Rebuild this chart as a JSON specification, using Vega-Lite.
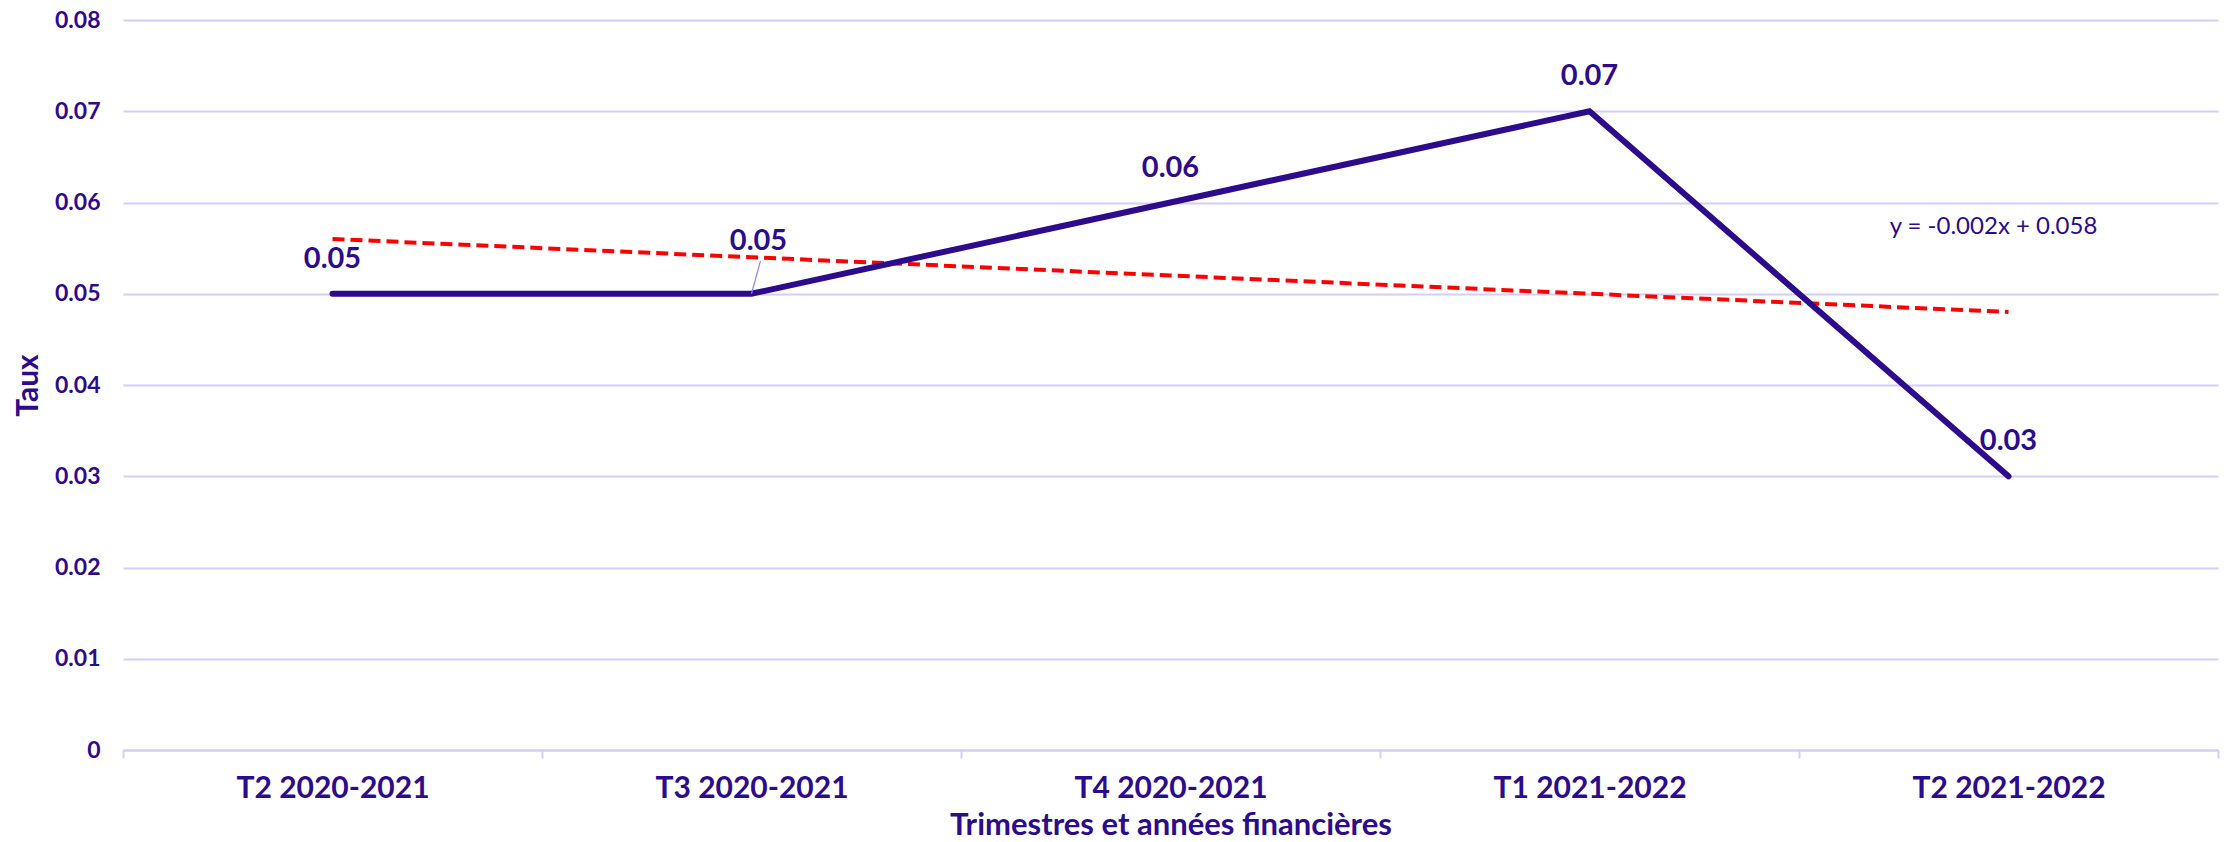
{
  "$schema": "https://vega.github.io/schema/vega-lite/v6.json",
  "autosize": "none",
  "width": 2095,
  "height": 730,
  "padding": {"left": 123, "top": 20, "right": 8, "bottom": 92},
  "background": "white",
  "config": {
    "view": {"stroke": null},
    "font": "Lato",
    "axis": {"labelFont": "Lato", "titleFont": "Lato", "labelColor": "#2C0B8C", "titleColor": "#2C0B8C", "labelFontWeight": "bold", "titleFontWeight": "bold"}
  },
  "datasets": {
    "taux": [
      {"trimestre": "T2 2020-2021", "taux": 0.05, "tendance": 0.056},
      {"trimestre": "T3 2020-2021", "taux": 0.05, "tendance": 0.054},
      {"trimestre": "T4 2020-2021", "taux": 0.06, "tendance": 0.052},
      {"trimestre": "T1 2021-2022", "taux": 0.07, "tendance": 0.050},
      {"trimestre": "T2 2021-2022", "taux": 0.03, "tendance": 0.048}
    ]
  },
  "data": {"name": "taux"},
  "encoding": {
    "x": {
      "field": "trimestre", "type": "nominal", "sort": null, "bandPosition": 0.5,
      "scale": {"type": "band", "paddingInner": 0, "paddingOuter": 0},
      "axis": {
        "title": "Trimestres et années financières",
        "titleFontSize": 31, "titleY": 84, "titleBaseline": "alphabetic",
        "labelAngle": 0, "labelFontSize": 30, "labelPadding": 15, "labelBaseline": "top", "labelLimit": 0,
        "tickBand": "extent", "tickSize": 8, "tickColor": "#D4CCFA", "tickWidth": 2,
        "domainColor": "#D4CCFA", "domainWidth": 2, "grid": false
      }
    }
  },
  "layer": [
    {
      "mark": {"type": "line", "color": "#FF0000", "strokeWidth": 4, "strokeDash": [12, 6]},
      "encoding": {
        "y": {"field": "tendance", "type": "quantitative",
          "scale": {"domain": [0, 0.08], "nice": false},
          "axis": {
            "title": "Taux", "titleFontSize": 30, "titleX": -86, "titleY": 365, "titleBaseline": "alphabetic", "titleAngle": -90,
            "values": [0, 0.01, 0.02, 0.03, 0.04, 0.05, 0.06, 0.07, 0.08], "format": ".2~f",
            "labelFontSize": 23, "labelPadding": 23, "ticks": false, "domain": false,
            "grid": true, "gridColor": "#D4CCFA", "gridWidth": 2
          }
        }
      }
    },
    {
      "mark": {"type": "line", "color": "#2C0B8C", "strokeWidth": 6, "strokeCap": "round", "strokeJoin": "miter"},
      "encoding": {"y": {"field": "taux", "type": "quantitative"}}
    },
    {
      "transform": [{"filter": "datum.trimestre !== 'T3 2020-2021'"}],
      "mark": {"type": "text", "color": "#2C0B8C", "fontSize": 29, "fontWeight": "bold", "baseline": "alphabetic", "dy": -26},
      "encoding": {
        "y": {"field": "taux", "type": "quantitative"},
        "text": {"field": "taux", "type": "quantitative", "format": ".2f"}
      }
    },
    {
      "transform": [{"filter": "datum.trimestre === 'T3 2020-2021'"}],
      "mark": {"type": "text", "color": "#2C0B8C", "fontSize": 29, "fontWeight": "bold", "baseline": "alphabetic", "dx": 7, "dy": -44},
      "encoding": {
        "y": {"field": "taux", "type": "quantitative"},
        "text": {"field": "taux", "type": "quantitative", "format": ".2f"}
      }
    },
    {
      "data": {"values": [{"trimestre": "T3 2020-2021", "debut": 0.05, "fin": 0.0536}]},
      "mark": {"type": "rule", "color": "#8E80F0", "strokeWidth": 1.2, "x2Offset": 9},
      "encoding": {
        "x2": {"field": "trimestre", "bandPosition": 0.5},
        "y": {"field": "debut", "type": "quantitative"},
        "y2": {"field": "fin"}
      }
    },
    {
      "data": {"values": [{"trimestre": "T2 2021-2022", "position": 0.0573, "equation": "y = -0.002x + 0.058"}]},
      "mark": {"type": "text", "color": "#2C0B8C", "fontSize": 24, "fontWeight": "normal", "baseline": "middle", "dx": -15},
      "encoding": {
        "y": {"field": "position", "type": "quantitative"},
        "text": {"field": "equation"}
      }
    }
  ]
}
